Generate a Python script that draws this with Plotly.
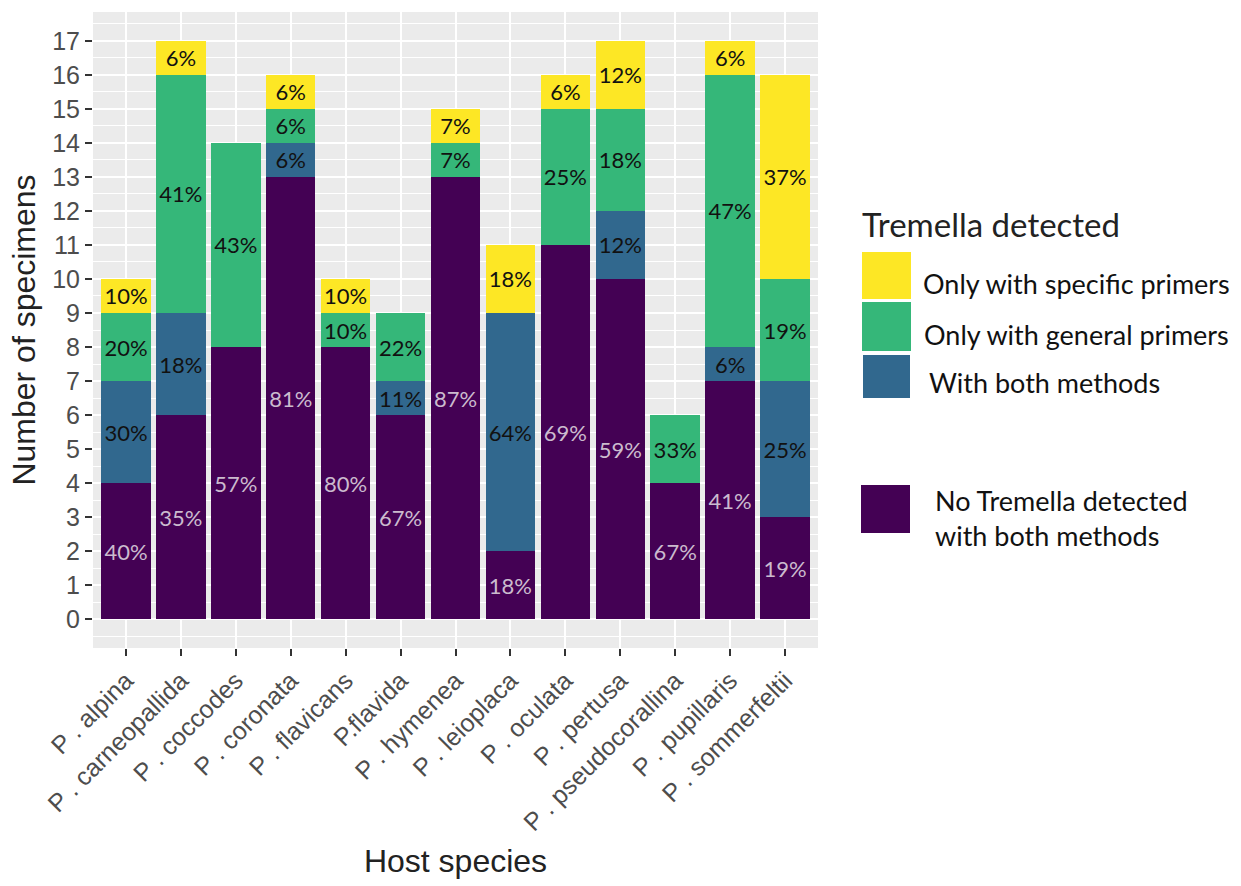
import plotly.graph_objects as go

species = ["P . alpina", "P . carneopallida", "P . coccodes", "P . coronata", "P . flavicans",
           "P.flavida", "P . hymenea", "P . leioplaca", "P . oculata", "P . pertusa",
           "P . pseudocorallina", "P . pupillaris", "P . sommerfeltii"]

none_detected = [4, 6, 8, 13, 8, 6, 13, 2, 11, 10, 4, 7, 3]
both_methods = [3, 3, 0, 1, 0, 1, 0, 7, 0, 2, 0, 1, 4]
general_only = [2, 7, 6, 1, 1, 2, 1, 0, 4, 3, 2, 8, 3]
specific_only = [1, 1, 0, 1, 1, 0, 1, 2, 1, 2, 0, 1, 6]

pct_none = ["40%", "35%", "57%", "81%", "80%", "67%", "87%", "18%", "69%", "59%", "67%", "41%", "19%"]
pct_both = ["30%", "18%", "", "6%", "", "11%", "", "64%", "", "12%", "", "6%", "25%"]
pct_general = ["20%", "41%", "43%", "6%", "10%", "22%", "7%", "", "25%", "18%", "33%", "47%", "19%"]
pct_specific = ["10%", "6%", "", "6%", "10%", "", "7%", "18%", "6%", "12%", "", "6%", "37%"]

series = [
    ("No Tremella detected with both methods", none_detected, pct_none, "#440154", "#CBBBCE"),
    ("With both methods", both_methods, pct_both, "#31688E", "#111111"),
    ("Only with general primers", general_only, pct_general, "#35B779", "#111111"),
    ("Only with specific primers", specific_only, pct_specific, "#FDE725", "#111111"),
]

y_ticks = list(range(0, 18))

fig = go.Figure()
for name, vals, txt, col, tcol in series:
    fig.add_trace(go.Bar(
        x=species, y=vals, name=name, text=txt,
        marker=dict(color=col, line=dict(width=0)),
        width=0.9,
        textposition="inside", insidetextanchor="middle", textangle=0,
        constraintext="none",
        textfont=dict(family="Lato", size=22, color=tcol),
        showlegend=False,
    ))

L, R, T, B = 93, 818, 12, 648
W, H = 1241, 886

def px(x):
    return (x - L) / (R - L)

def py(y):
    return (B - y) / (B - T)

fig.update_layout(
    width=W, height=H,
    barmode="stack", bargap=0.1,
    plot_bgcolor="#EBEBEB", paper_bgcolor="white",
    margin=dict(l=L, r=W - R, t=T, b=H - B, autoexpand=False),
    font=dict(family="Liberation Sans", color="#4D4D4D"),
    xaxis=dict(
        range=[-0.6, 12.6], showgrid=True, gridcolor="white", gridwidth=1.5,
        ticks="outside", ticklen=7, tickwidth=1.5, tickcolor="#333333",
        tickangle=-45, tickfont=dict(size=25, color="#4D4D4D"), automargin=False,
        title=dict(text="Host species", font=dict(size=32, color="#222222"), standoff=14),
        zeroline=False,
    ),
    yaxis=dict(
        range=[-0.85, 17.85], tickvals=y_ticks, showgrid=True, gridcolor="white", gridwidth=1.5,
        minor=dict(dtick=0.5, tick0=0.5, showgrid=True, gridcolor="white", gridwidth=0.7),
        ticks="outside", ticklen=7, tickwidth=1.5, tickcolor="#333333",
        tickfont=dict(size=25, color="#4D4D4D"), automargin=False,
        title=dict(text="Number of specimens", font=dict(size=32, color="#222222"), standoff=6),
        zeroline=False,
    ),
)

# Custom legend
legend_items = [
    ("Only with specific primers", "#FDE725", 862, 252, 911, 299, 921, 283),
    ("Only with general primers", "#35B779", 862, 302, 911, 351, 922, 334),
    ("With both methods", "#31688E", 863, 355, 910, 398, 927, 382),
    ("No Tremella detected<br>with both methods", "#440154", 861, 485, 910, 533, 933, 518),
]
shapes = []
annotations = [dict(text="Tremella detected", x=px(860), y=py(224), xref="paper", yref="paper",
                    xanchor="left", yanchor="middle", showarrow=False,
                    font=dict(family="Lato", size=33, color="#222222"))]
for label, col, x0, y0, x1, y1, tx, ty in legend_items:
    shapes.append(dict(type="rect", xref="paper", yref="paper",
                       x0=px(x0), x1=px(x1), y0=py(y1), y1=py(y0),
                       fillcolor=col, line=dict(width=0)))
    annotations.append(dict(text=label, x=px(tx), y=py(ty), xref="paper", yref="paper",
                            xanchor="left", yanchor="middle", align="left", showarrow=False,
                            font=dict(family="Lato", size=27, color="#111111")))
fig.update_layout(shapes=shapes, annotations=annotations)

fig.write_html("out.html", config={"displayModeBar": False},
               post_script="document.body.style.margin='0';document.body.style.overflow='hidden';")
